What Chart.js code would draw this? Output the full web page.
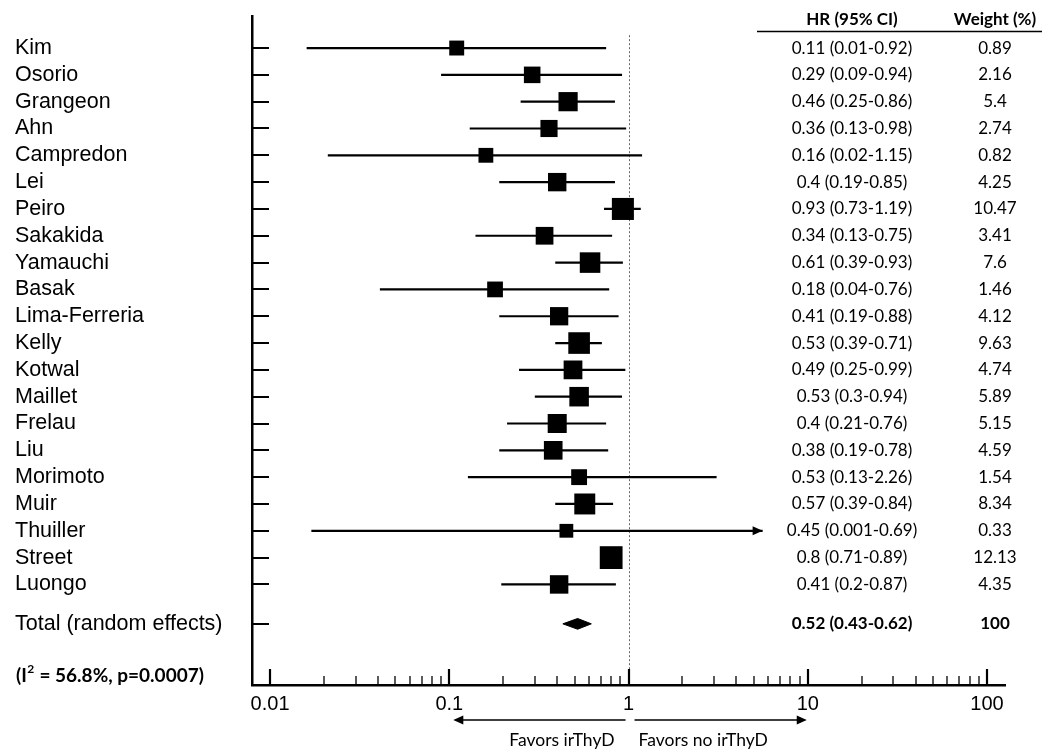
<!DOCTYPE html>
<html>
<head>
<meta charset="utf-8">
<title>Forest plot</title>
<script src="https://cdn.jsdelivr.net/npm/chart.js@4.4.1/dist/chart.umd.min.js"></script>
<style>
  html, body { margin: 0; padding: 0; background: #fff; }
  #wrap { width: 1050px; height: 756px; }
</style>
</head>
<body>
<div id="wrap"><canvas id="forest" width="1050" height="756"></canvas></div>
<script>
// study rows, top to bottom
const studies = ['Kim', 'Osorio', 'Grangeon', 'Ahn', 'Campredon', 'Lei', 'Peiro', 'Sakakida', 'Yamauchi', 'Basak',
  'Lima-Ferreria', 'Kelly', 'Kotwal', 'Maillet', 'Frelau', 'Liu', 'Morimoto', 'Muir', 'Thuiller', 'Street', 'Luongo'];

// HR and CI ends as drawn in the plot
const hr = [0.11, 0.29, 0.46, 0.36, 0.16, 0.40, 0.93, 0.34, 0.61, 0.18, 0.41, 0.53, 0.49, 0.53, 0.40, 0.38, 0.53, 0.57, 0.45, 0.80, 0.41];
const ciLow = [0.016, 0.09, 0.25, 0.13, 0.021, 0.19, 0.73, 0.14, 0.39, 0.041, 0.19, 0.39, 0.245, 0.30, 0.21, 0.19, 0.127, 0.39, 0.017, 0.71, 0.195];
const ciHigh = [0.75, 0.92, 0.84, 0.97, 1.19, 0.84, 1.17, 0.81, 0.93, 0.78, 0.88, 0.71, 0.96, 0.92, 0.75, 0.77, 3.1, 0.82, 5.6, 0.89, 0.85];
const weights = [0.89, 2.16, 5.4, 2.74, 0.82, 4.25, 10.47, 3.41, 7.6, 1.46, 4.12, 9.63, 4.74, 5.89, 5.15, 4.59, 1.54, 8.34, 0.33, 12.13, 4.35];

// table column text
const hrLabels = ['0.11 (0.01-0.92)', '0.29 (0.09-0.94)', '0.46 (0.25-0.86)', '0.36 (0.13-0.98)', '0.16 (0.02-1.15)',
  '0.4 (0.19-0.85)', '0.93 (0.73-1.19)', '0.34 (0.13-0.75)', '0.61 (0.39-0.93)', '0.18 (0.04-0.76)', '0.41 (0.19-0.88)',
  '0.53 (0.39-0.71)', '0.49 (0.25-0.99)', '0.53 (0.3-0.94)', '0.4 (0.21-0.76)', '0.38 (0.19-0.78)', '0.53 (0.13-2.26)',
  '0.57 (0.39-0.84)', '0.45 (0.001-0.69)', '0.8 (0.71-0.89)', '0.41 (0.2-0.87)'];

// pooled estimate
const totalName = 'Total (random effects)';
const totalHR = 0.52;
const totalLow = 0.43;
const totalHigh = 0.62;
const totalText = '0.52 (0.43-0.62)';
const totalWeight = '100';

const xTicks = [0.01, 0.1, 1, 10, 100];
const arrowed = ['Thuiller'];   // CI runs off the right side

const TOTAL_ROW = 21.47;
const labelFont = '"Liberation Sans", Arial, sans-serif';
const tableFont = 'Lato, "Open Sans", sans-serif';
const HR_COL = 852;
const W_COL = 995;

function boxSide(w) {
  return 12 + 3.1 * Math.sqrt(w);
}

// CI segments, split by null gaps
const ciPoints = [];
studies.forEach((s, i) => {
  ciPoints.push({ x: ciLow[i], y: i }, { x: ciHigh[i], y: i }, { x: null, y: null });
});

const diamond = [
  { x: totalLow, y: TOTAL_ROW },
  { x: totalHR, y: TOTAL_ROW - 0.2 },
  { x: totalHigh, y: TOTAL_ROW },
  { x: totalHR, y: TOTAL_ROW + 0.2 },
  { x: totalLow, y: TOTAL_ROW }
];

const rowNames = studies.concat([totalName]);
const rowValues = studies.map((s, i) => i).concat([TOTAL_ROW]);

function arrowHead(ctx, tipX, y, dir, len, half) {
  ctx.beginPath();
  ctx.moveTo(tipX, y);
  ctx.lineTo(tipX - dir * len, y - half);
  ctx.lineTo(tipX - dir * len, y + half);
  ctx.closePath();
  ctx.fill();
}

const extras = {
  id: 'extras',
  beforeDatasetsDraw(chart) {
    const { ctx, chartArea } = chart;
    const x = chart.scales.x, y = chart.scales.y;
    // dotted no-effect line
    ctx.save();
    ctx.strokeStyle = '#666';
    ctx.lineWidth = 1;
    ctx.setLineDash([2, 2]);
    const x1 = Math.round(x.getPixelForValue(1)) + 0.5;
    ctx.beginPath();
    ctx.moveTo(x1, y.getPixelForValue(-0.48));
    ctx.lineTo(x1, chartArea.bottom);
    ctx.stroke();
    ctx.restore();
  },
  afterDraw(chart) {
    const { ctx, chartArea } = chart;
    const x = chart.scales.x, y = chart.scales.y;
    ctx.save();
    ctx.fillStyle = '#000';
    ctx.strokeStyle = '#000';

    // row ticks on the y axis, pointing right
    ctx.lineWidth = 2;
    rowValues.forEach(v => {
      const py = Math.round(y.getPixelForValue(v));
      ctx.beginPath();
      ctx.moveTo(chartArea.left, py);
      ctx.lineTo(chartArea.left + 17, py);
      ctx.stroke();
    });

    // log ticks on the x axis, pointing up
    for (let e = -2; e <= 2; e++) {
      for (let m = 1; m <= 9; m++) {
        const v = m * Math.pow(10, e);
        if (v > x.max) break;
        const px = Math.round(x.getPixelForValue(v));
        ctx.lineWidth = m === 1 ? 2.2 : 1.3;
        ctx.beginPath();
        ctx.moveTo(px, chartArea.bottom);
        ctx.lineTo(px, chartArea.bottom - (m === 1 ? 16 : 9));
        ctx.stroke();
      }
    }

    // arrow for CI beyond the plotted range
    arrowed.forEach(name => {
      const i = studies.indexOf(name);
      arrowHead(ctx, x.getPixelForValue(ciHigh[i]), y.getPixelForValue(i), 1, 10, 4.5);
    });

    // table header
    ctx.textAlign = 'center';
    ctx.textBaseline = 'middle';
    ctx.font = `bold 17px ${tableFont}`;
    ctx.fillText('HR (95% CI)', HR_COL, 20);
    ctx.fillText('Weight (%)', W_COL, 20);
    ctx.lineWidth = 1.5;
    ctx.beginPath();
    ctx.moveTo(757, 31.5);
    ctx.lineTo(1042, 31.5);
    ctx.stroke();

    // table rows
    ctx.font = `17px ${tableFont}`;
    studies.forEach((s, i) => {
      const py = y.getPixelForValue(i);
      ctx.fillText(hrLabels[i], HR_COL, py);
      ctx.fillText(String(weights[i]), W_COL, py);
    });
    ctx.font = `bold 17px ${tableFont}`;
    const ty = y.getPixelForValue(TOTAL_ROW);
    ctx.fillText(totalText, HR_COL, ty);
    ctx.fillText(totalWeight, W_COL, ty);

    // heterogeneity note
    ctx.textAlign = 'left';
    ctx.font = `bold 19px ${tableFont}`;
    let tx = 16;
    ctx.fillText('(I', tx, 676);
    tx += ctx.measureText('(I').width;
    ctx.font = `bold 12px ${tableFont}`;
    ctx.fillText('2', tx + 0.5, 669);
    tx += ctx.measureText('2').width + 1;
    ctx.font = `bold 19px ${tableFont}`;
    ctx.fillText(' = 56.8%, p=0.0007)', tx, 676);

    // favours arrows under the axis
    const p1 = x.getPixelForValue(1);
    const pLo = x.getPixelForValue(0.1);
    const pHi = x.getPixelForValue(10);
    ctx.lineWidth = 1.5;
    ctx.beginPath();
    ctx.moveTo(p1 - 3, 720);
    ctx.lineTo(pLo + 12, 720);
    ctx.moveTo(p1 + 6, 720);
    ctx.lineTo(pHi - 8, 720);
    ctx.stroke();
    arrowHead(ctx, pLo + 4, 720, -1, 10, 4.5);
    arrowHead(ctx, pHi - 1, 720, 1, 10, 4.5);

    ctx.font = `17.5px ${tableFont}`;
    ctx.textAlign = 'right';
    ctx.fillText('Favors irThyD', p1 - 14, 740);
    ctx.textAlign = 'left';
    ctx.fillText('Favors no irThyD', p1 + 10, 740);
    ctx.restore();
  }
};

new Chart(document.getElementById('forest'), {
  type: 'scatter',
  data: {
    datasets: [
      {
        data: studies.map((s, i) => ({ x: hr[i], y: i })),
        pointStyle: 'rect',
        pointRadius: weights.map(w => boxSide(w) / Math.SQRT2),
        pointBackgroundColor: '#000',
        pointBorderWidth: 0,
        showLine: false
      },
      {
        data: diamond,
        showLine: true,
        fill: 'shape',
        backgroundColor: '#000',
        borderColor: '#000',
        borderWidth: 1,
        pointRadius: 0
      },
      {
        data: ciPoints,
        showLine: true,
        spanGaps: false,
        borderColor: '#000',
        borderWidth: 2.2,
        pointRadius: 0
      }
    ]
  },
  options: {
    responsive: false,
    devicePixelRatio: 1,
    animation: false,
    layout: { padding: { top: 14, right: 45, bottom: 0, left: 15 } },
    plugins: { legend: { display: false }, tooltip: { enabled: false } },
    scales: {
      x: {
        type: 'logarithmic',
        position: 'bottom',
        min: 0.00793,
        max: 126,
        afterBuildTicks: sc => { sc.ticks = xTicks.map(v => ({ value: v })); },
        afterFit: sc => { sc.height = 71; },
        grid: { display: false, drawTicks: false },
        border: { display: true, color: '#000', width: 2.5 },
        ticks: {
          autoSkip: false,
          maxRotation: 0,
          padding: 7,
          color: '#000',
          font: { family: labelFont, size: 20 },
          callback: v => String(v)
        }
      },
      y: {
        type: 'linear',
        reverse: true,
        min: -1.19,
        max: 23.75,
        afterBuildTicks: sc => { sc.ticks = rowValues.map(v => ({ value: v })); },
        afterFit: sc => { sc.width = 237; },
        grid: { display: false, drawTicks: false },
        border: { display: true, color: '#000', width: 2.5 },
        ticks: {
          autoSkip: false,
          crossAlign: 'far',
          padding: 0,
          color: '#000',
          font: { family: labelFont, size: 21.5 },
          callback: (v, i) => rowNames[i]
        }
      }
    }
  },
  plugins: [extras]
});
</script>
</body>
</html>
